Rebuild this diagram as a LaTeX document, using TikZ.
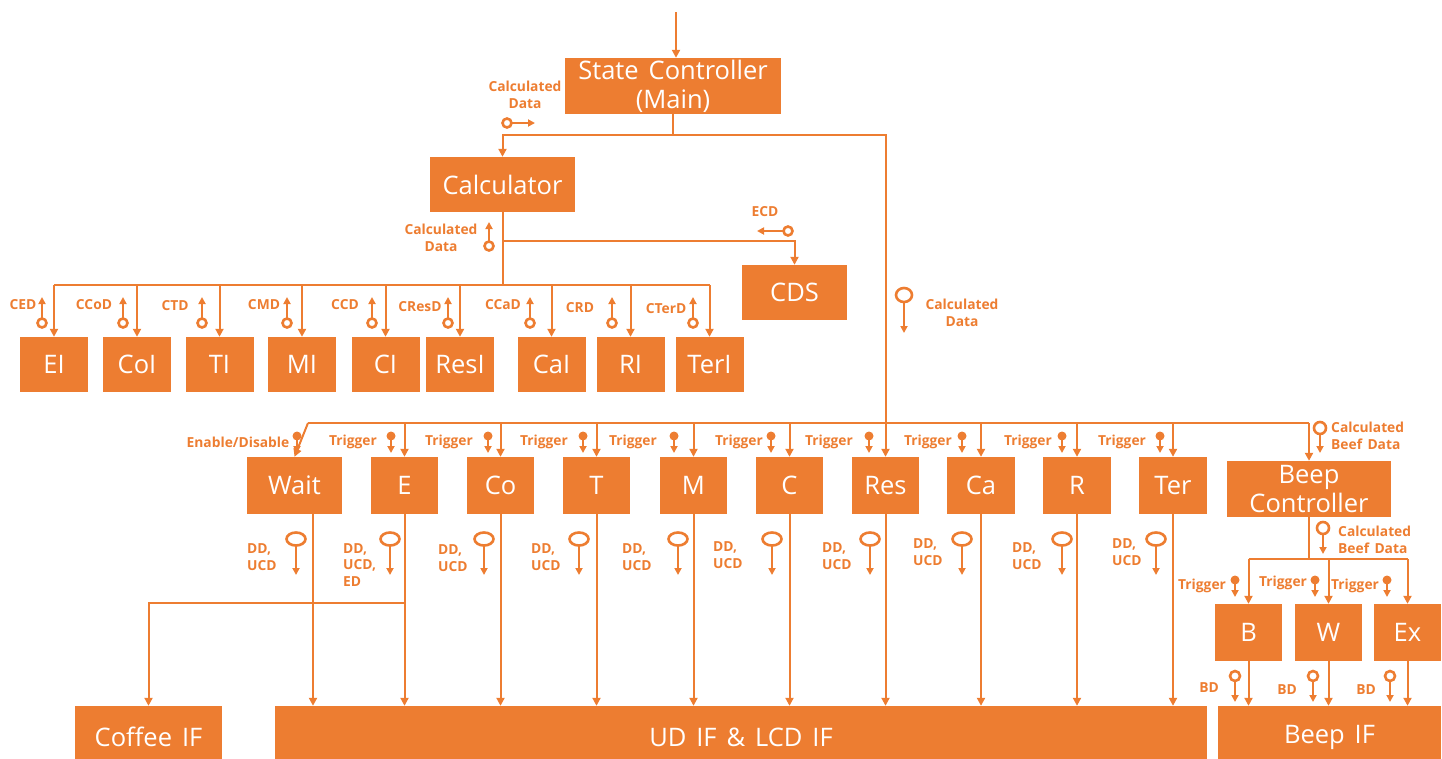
\documentclass[tikz,border=0pt]{standalone}
\usepackage{fontspec}
\setmainfont{Open Sans}[WordSpace=1.5]
\usetikzlibrary{arrows.meta}
\definecolor{orng}{RGB}{237,125,49}
\newcommand{\boxfont}{\fontsize{25.5}{29}\selectfont}
\newcommand{\tagfont}{\fontsize{13.8}{16.5}\selectfont\bfseries}
%% open ring glyph: #1 ring centre, #2 arrow end, #3/#4 x/y radius
\newcommand{\ring}[4]{%
  \draw[sig] (#1) -- (#2);
  \filldraw[ringd] (#1) circle[x radius=#3, y radius=#4];}
%% filled pin glyph: #1 dot centre, #2 arrow end
\newcommand{\pin}[2]{%
  \draw[sig] (#1) -- (#2);
  \fill[orng] (#1) circle[radius=4.5];}

\begin{document}
\begin{tikzpicture}[x=1pt, y=-1pt,
    box/.style={fill=orng, text=white, font=\boxfont, inner sep=0pt, align=center},
    tag/.style={text=orng, font=\tagfont, inner sep=0pt, align=center},
    line/.style={draw=orng, line width=2pt},
    arr/.style={line, -{Triangle[length=8pt, width=8pt]}},
    sig/.style={draw=orng, line width=2.2pt, -{Triangle[length=7pt, width=7pt]}},
    ringd/.style={draw=orng, fill=white, line width=2.6pt},
  ]
  \useasboundingbox (0,0) rectangle (1442,758);

  %% ================= boxes =================
  \node[box, minimum width=216pt, minimum height=56pt] (sc) at (673,86) {State Controller\\(Main)};
  \node[box, minimum width=145pt, minimum height=55pt] (calc) at (502.5,184.5) {Calculator};
  \node[box, minimum width=105pt, minimum height=55pt] (cds) at (794.5,292.5) {CDS};

  \foreach \n/\t/\x in {ei/EI/54, coi/CoI/137, ti/TI/219.5, mi/MI/302, ci/CI/385.5,
      resi/ResI/460, cai/CaI/551.5, ri/RI/630.5, teri/TerI/709.5}
    \node[box, minimum width=68pt, minimum height=55pt] (\n) at (\x,364.5) {\t};

  \foreach \n/\t/\x/\w in {wait/Wait/294.5/95, e/E/404.5/67, co/Co/500.5/67, t/T/596.5/67,
      m/M/693.5/67, c/C/789.5/67, res/Res/885.5/67, ca/Ca/981/68, r/R/1077/68, ter/Ter/1173/68}
    \node[box, minimum width=\w pt, minimum height=57pt] (\n) at (\x,485.5) {\t};
  \node[box, minimum width=164pt, minimum height=56pt] (bc) at (1309,489) {Beep\\Controller};

  \foreach \n/\t/\x in {b/B/1248.5, w/W/1328.5, ex/Ex/1407.5}
    \node[box, minimum width=67pt, minimum height=57pt] (\n) at (\x,632.5) {\t};

  % bottom row runs off the lower edge
  \node[box, minimum width=147pt, minimum height=62pt] (cof) at (148.5,737) {Coffee IF};
  \node[box, minimum width=932pt, minimum height=62pt] (ud) at (741,737) {UD IF \& LCD IF};
  \node[box, minimum width=223pt, minimum height=62pt] (bif) at (1329.5,737) {Beep IF};

  %% ================= connectors =================
  \coordinate (in) at (676,12);
  \draw[arr] (in) -- (in |- sc.north);
  \draw[line] (sc.south) -- (sc.south |- 0,135);
  \draw[arr] (sc.south |- 0,135) -| (calc.north);
  \draw[arr] (sc.south |- 0,135) -| (res.north);

  % calculator fan-out
  \draw[line] (calc.south) -- (calc.south |- 0,285);
  \draw[arr] (calc.south |- 0,241) -| (cds.north);
  \draw[line] (ei.north |- 0,285) -- (teri.north |- 0,285);
  \foreach \n in {ei,coi,ti,mi,ci,resi,cai,ri,teri}
    \draw[arr] (\n.north |- 0,285) -- (\n.north);

  % middle bus
  \coordinate (bus0) at (308,423);
  \draw[line] (bus0) -- (bc.north |- bus0);
  \draw[arr] (bus0) -- (wait.north);
  \foreach \n in {e,co,t,m,c,ca,r,ter,bc}
    \draw[arr] (\n.north |- bus0) -- (\n.north);

  % down to the interfaces
  \draw[arr] ([xshift=18.5pt]wait.south) -- ([xshift=18.5pt]wait.south |- ud.north);
  \foreach \n in {e,co,t,m,c,res,ca,r,ter}
    \draw[arr] (\n.south) -- (\n.south |- ud.north);
  \draw[arr] (e.south |- 0,603) -| (cof.north);

  % beep controller
  \draw[line] (bc.south) -- (bc.south |- 0,559);
  \draw[line] (b.north |- 0,559) -- (ex.north |- 0,559);
  \foreach \n in {b,w,ex} {
    \draw[arr] (\n.north |- 0,559) -- (\n.north);
    \draw[arr] (\n.south) -- (\n.south |- bif.north);
  }

  %% ================= signal glyphs and tags =================
  \ring{507,123}{535,123}{4.5}{4.5}
  \node[tag] (lcdA) at (525,95) {Calculated\\Data};
  \ring{489,246}{489,222}{4.5}{4.5}
  \node[tag] (lcdB) at (441,238) {Calculated\\Data};
  \ring{788,231}{757,231}{4.5}{4.5}
  \node[tag] (lecd) at (765,212) {ECD};
  \ring{904,295}{904,333}{8}{7}
  \node[tag] (lcdC) at (962,313) {Calculated\\Data};

  \foreach \x/\t/\lx/\ly in {42/CED/23/305, 123/CCoD/94/305, 202/CTD/175/306, 287/CMD/264/305,
      372/CCD/345/305, 448/CResD/420/307, 530/CCaD/503/305, 612/CRD/580/308, 693/CTerD/666/309} {
    \ring{\x,323}{\x,297}{4.5}{4.5}
    \node[tag] (l\t) at (\lx,\ly) {\t};
  }

  \pin{297,436}{297,453}
  \node[tag] (len) at (238,442) {Enable/Disable};
  \foreach \x/\lx in {391/353, 488/449, 583/544, 674/633, 771/739, 869/829, 962/928, 1062/1028, 1160/1122} {
    \pin{\x,436}{\x,453}
    \node[tag] (trg\x) at (\lx,442) {Trigger};
  }
  \ring{1320,428}{1320,453}{6}{6}
  \node[tag, align=left, anchor=west] (lbfA) at (1331,436) {Calculated\\Beef~Data};

  \foreach \x/\lx/\ly/\t in {296/247/557/{DD,\\UCD}, 390/343/565/{DD,\\UCD,\\ED}, 484/438/558/{DD,\\UCD},
      579/531/557/{DD,\\UCD}, 678/622/557/{DD,\\UCD}, 772/713/555/{DD,\\UCD}, 870/822/556/{DD,\\UCD},
      962/913/552/{DD,\\UCD}, 1062/1012/556/{DD,\\UCD}, 1156/1112/552/{DD,\\UCD}} {
    \ring{\x,539}{\x,575}{9.5}{6.5}
    \node[tag, align=left, anchor=west] (ldd\x) at (\lx,\ly) {\t};
  }

  \ring{1323,528}{1323,554}{6}{6}
  \node[tag, align=left, anchor=west] (lbfB) at (1338,540) {Calculated\\Beef~Data};
  \foreach \x/\lx/\ly in {1235/1202/586, 1315/1283/583, 1387/1355/586} {
    \pin{\x,580}{\x,597}
    \node[tag] (trb\x) at (\lx,\ly) {Trigger};
  }
  \foreach \x/\lx/\ly in {1235/1209/688, 1313/1287/690, 1390/1366/690} {
    \ring{\x,676}{\x,702}{5}{5}
    \node[tag] (lbd\x) at (\lx,\ly) {BD};
  }
\end{tikzpicture}
\end{document}
